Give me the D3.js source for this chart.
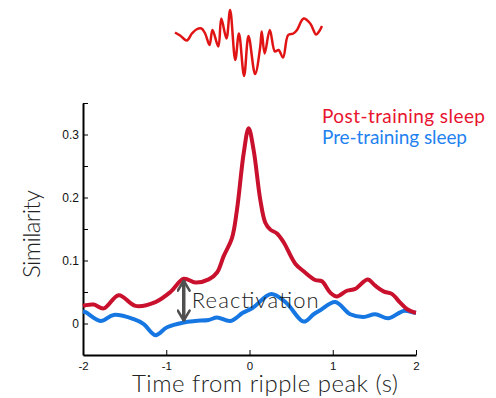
<!DOCTYPE html>
<html>
<head>
<meta charset="utf-8">
<script src="https://cdn.jsdelivr.net/npm/d3@7/dist/d3.min.js"></script>
<style>
  html, body { margin: 0; padding: 0; background: #fff; }
  svg { display: block; }
  .thin { font-family: Lato, "Open Sans", sans-serif; font-weight: 300; }
</style>
</head>
<body>
<svg id="chart" width="496" height="398"></svg>
<script>
// Similarity around ripple peaks (time in s)
const postTime = [-2.0, -1.97, -1.87, -1.75, -1.57, -1.37, -1.13, -0.95, -0.79, -0.65, -0.49, -0.39, -0.31, -0.21, -0.15, -0.07, -0.01, 0.05, 0.13, 0.19, 0.25, 0.33, 0.41, 0.55, 0.65, 0.79, 0.87, 0.97, 1.05, 1.17, 1.27, 1.42, 1.51, 1.61, 1.71, 1.81, 1.89, 1.97, 2.0];
const postSim  = [0.028, 0.029, 0.030, 0.024, 0.045, 0.028, 0.034, 0.050, 0.071, 0.065, 0.070, 0.081, 0.107, 0.136, 0.181, 0.270, 0.310, 0.275, 0.196, 0.160, 0.149, 0.143, 0.129, 0.095, 0.083, 0.069, 0.067, 0.049, 0.043, 0.052, 0.055, 0.070, 0.060, 0.051, 0.047, 0.033, 0.023, 0.018, 0.017];

const preTime = [-2.0, -1.97, -1.79, -1.63, -1.39, -1.27, -1.13, -0.99, -0.79, -0.65, -0.49, -0.39, -0.23, -0.08, 0.04, 0.26, 0.44, 0.65, 0.77, 0.85, 1.03, 1.21, 1.37, 1.51, 1.67, 1.85, 1.97, 2.0];
const preSim  = [0.019, 0.018, 0.004, 0.0136, 0.0068, -0.001, -0.0185, -0.006, 0.0016, 0.004, 0.0057, 0.0095, 0.004, 0.017, 0.025, 0.047, 0.033, 0.003, 0.0147, 0.021, 0.034, 0.0147, 0.0105, 0.0147, 0.0084, 0.020, 0.0174, 0.017];

// Example ripple trace (ms, µV)
const rippleTime = [-100, -93, -84, -77, -71, -64, -59, -53, -49, -41, -37, -30, -25, -18, -13, -6, 0, 9, 16, 18, 22, 29, 36, 41, 47, 54, 61, 66, 75, 84, 92, 96, 100];
const rippleAmp  = [21, 15, 5, 19, 27, 29, 19, -4, 26, -7, 49, 9, 66, -34, 19, -66, 14, -62, -7, 23, -21, 26, -17, -14, -29, 16, 19, 26, 49, 39, 17, 23, 34];

const xTicks = [-2, -1, 0, 1, 2];
const yTicks = [0, 0.05, 0.1, 0.15, 0.2, 0.25, 0.3, 0.35];
const yLabelTicks = [0, 0.1, 0.2, 0.3];
const seriesNames = ["Post-training sleep", "Pre-training sleep"];

const svg = d3.select("#chart");
const plotLeft = 83, plotRight = 416, plotTop = 103, plotBottom = 355;

const x = d3.scaleLinear().domain([-2, 2]).range([plotLeft, plotRight]);
const y = d3.scaleLinear().domain([-0.05, 0.35]).range([plotBottom, plotTop]);

// axes with inward ticks
const yAxis = d3.axisLeft(y).tickValues(yTicks).tickSizeInner(-5).tickSizeOuter(0).tickPadding(4)
  .tickFormat(d => yLabelTicks.some(v => Math.abs(v - d) < 1e-9) ? (d === 0 ? "0" : d3.format(".1f")(d)) : "");
const xAxis = d3.axisBottom(x).tickValues(xTicks).tickSizeInner(-5).tickSizeOuter(0).tickPadding(7)
  .tickFormat(d3.format("d"));

const gy = svg.append("g").attr("transform", `translate(${plotLeft},0)`).call(yAxis);
const gx = svg.append("g").attr("transform", `translate(0,${plotBottom})`).call(xAxis);
[gx, gy].forEach(g => {
  g.select(".domain").attr("stroke", "#000").attr("stroke-width", 2);
  g.selectAll(".tick line").attr("stroke", "#000").attr("stroke-width", 1);
  g.selectAll(".tick text").attr("fill", "#111").style("font-family", "'Liberation Sans', Arial, sans-serif").style("font-size", "12px");
});
gx.selectAll(".tick text").style("font-size", "11.5px").text(d => d < 0 ? "-" + Math.abs(d) : d);

// curves
const line = d3.line().x(d => x(d[0])).y(d => y(d[1])).curve(d3.curveCatmullRom.alpha(0.5));
svg.append("path").datum(d3.zip(preTime, preSim))
  .attr("d", line).attr("fill", "none").attr("stroke", "#1677e3").attr("stroke-width", 4).attr("stroke-linejoin", "round");
svg.append("path").datum(d3.zip(postTime, postSim))
  .attr("d", line).attr("fill", "none").attr("stroke", "#c9102c").attr("stroke-width", 4).attr("stroke-linejoin", "round");

// reactivation arrow between the two curves
const arrowT = -0.79;
const yTopVal = postSim[postTime.indexOf(arrowT)];
const yBotVal = preSim[preTime.indexOf(arrowT)];
const defs = svg.append("defs");
defs.append("marker").attr("id", "head").attr("viewBox", "0 0 10 10").attr("refX", 8.5).attr("refY", 5)
  .attr("markerWidth", 4).attr("markerHeight", 4).attr("orient", "auto-start-reverse").attr("markerUnits", "strokeWidth")
  .append("path").attr("d", "M1.5,0.8 L8.5,5 L1.5,9.2").attr("fill", "none").attr("stroke", "#4f4f4f").attr("stroke-width", 1.8).attr("stroke-linecap", "round").attr("stroke-linejoin", "round");
svg.append("line")
  .attr("x1", x(arrowT)).attr("x2", x(arrowT))
  .attr("y1", y(yTopVal) + 2).attr("y2", y(yBotVal) - 2)
  .attr("stroke", "#4f4f4f").attr("stroke-width", 3.5)
  .attr("marker-start", "url(#head)").attr("marker-end", "url(#head)");
svg.append("text").attr("class", "thin")
  .attr("x", x(arrowT) + 8).attr("y", 308)
  .attr("font-size", 22).attr("fill", "#222").attr("textLength", 127)
  .text("Reactivation");

// axis titles
svg.append("text").attr("class", "thin")
  .attr("x", 265).attr("y", 392).attr("text-anchor", "middle")
  .attr("font-size", 24).attr("fill", "#222").attr("textLength", 266)
  .text("Time from ripple peak (s)");
svg.append("text").attr("class", "thin")
  .attr("transform", "translate(40,234) rotate(-90)").attr("text-anchor", "middle")
  .attr("font-size", 24).attr("fill", "#222").attr("textLength", 88)
  .text("Similarity");

// legend
const legendColors = ["#e8132f", "#1f82f0"];
svg.selectAll(".legend").data(seriesNames).join("text")
  .attr("class", "legend thin")
  .attr("x", 322).attr("y", (d, i) => 123 + i * 21)
  .attr("font-size", 19).style("font-weight", 400)
  .attr("fill", (d, i) => legendColors[i]).attr("textLength", (d, i) => i === 0 ? 163 : 145)
  .text(d => d);

// ripple trace above the plot
const rx = d3.scaleLinear().domain([-100, 100]).range([175, 322]);
const ry = d3.scaleLinear().domain([-80, 80]).range([83, 3]);
svg.append("path").datum(d3.zip(rippleTime, rippleAmp))
  .attr("d", d3.line().x(d => rx(d[0])).y(d => ry(d[1])).curve(d3.curveCatmullRom.alpha(0.5)))
  .attr("fill", "none").attr("stroke", "#e01414").attr("stroke-width", 2.5).attr("stroke-linejoin", "round");
</script>
</body>
</html>
